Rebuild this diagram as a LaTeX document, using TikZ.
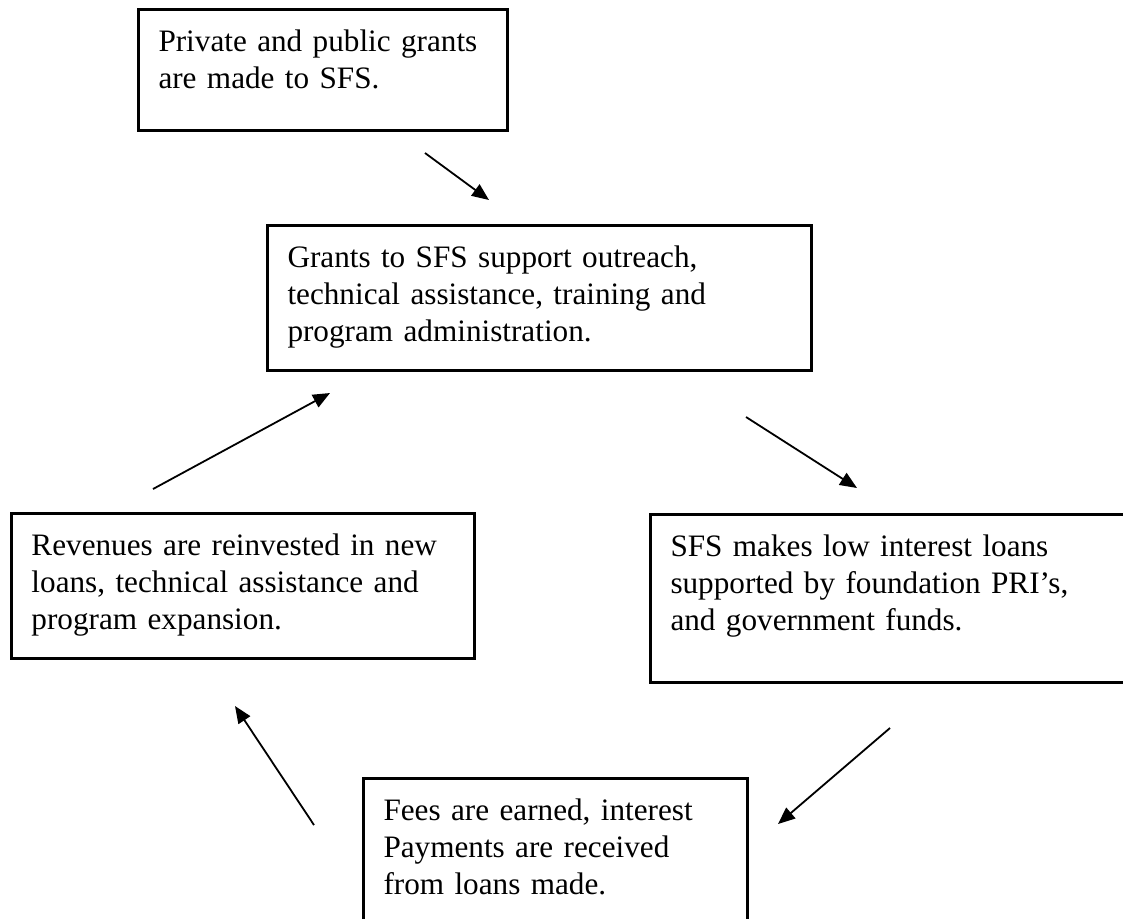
\documentclass[tikz,border=0pt]{standalone}
\usepackage{fontspec}
\setmainfont{Liberation Serif}
\usetikzlibrary{arrows.meta}
\def\sfsboxline{1.5pt}

\begin{document}
\begin{tikzpicture}[x=0.5pt,y=-0.5pt,
        sfsbox/.style={draw, line width=\sfsboxline, anchor=north west, inner sep=10pt,
            align=left, text height=11pt, font=\fontsize{15.6}{18.5}\selectfont},
        sfsarrow/.style={-{Triangle[length=8.5pt,width=7pt]}, line width=0.9pt}]
    \useasboundingbox (0,0) rectangle (1123,918);
    % the five stages
    \node[sfsbox, text width=164.5pt, text depth=29.5pt] (grants) at (137,8)
        {Private and public grants\\are made to SFS.};
    \node[sfsbox, text width=252pt, text depth=41.5pt] (support) at (266,224)
        {Grants to SFS support outreach,\\technical assistance, training and\\program administration.};
    \node[sfsbox, text width=211.5pt, text depth=41.5pt] (reinvest) at (10,512)
        {Revenues are reinvested in new\\loans, technical assistance and\\program expansion.};
    \node[sfsbox, text width=220pt, text depth=53pt] (loans) at (649,513)
        {SFS makes low interest loans\\supported by foundation PRI’s,\\and government funds.};
    \node[sfsbox, text width=172pt, text depth=53pt] (fees) at (362,777)
        {Fees are earned, interest\\Payments are received\\from loans made.};
    % arrow ends
    \coordinate (grants_out) at (425,153);
    \coordinate (support_in) at (489,200);
    \coordinate (support_out) at (746,417);
    \coordinate (loans_in) at (857,488);
    \coordinate (loans_out) at (890,728);
    \coordinate (fees_in) at (778,824);
    \coordinate (fees_out) at (314,825);
    \coordinate (reinvest_in) at (235,706);
    \coordinate (reinvest_out) at (153,489);
    \coordinate (support_back) at (330,393);
    % the cycle
    \draw[sfsarrow] (grants_out) -- (support_in);
    \draw[sfsarrow] (support_out) -- (loans_in);
    \draw[sfsarrow] (loans_out) -- (fees_in);
    \draw[sfsarrow] (fees_out) -- (reinvest_in);
    \draw[sfsarrow] (reinvest_out) -- (support_back);
\end{tikzpicture}
\end{document}
